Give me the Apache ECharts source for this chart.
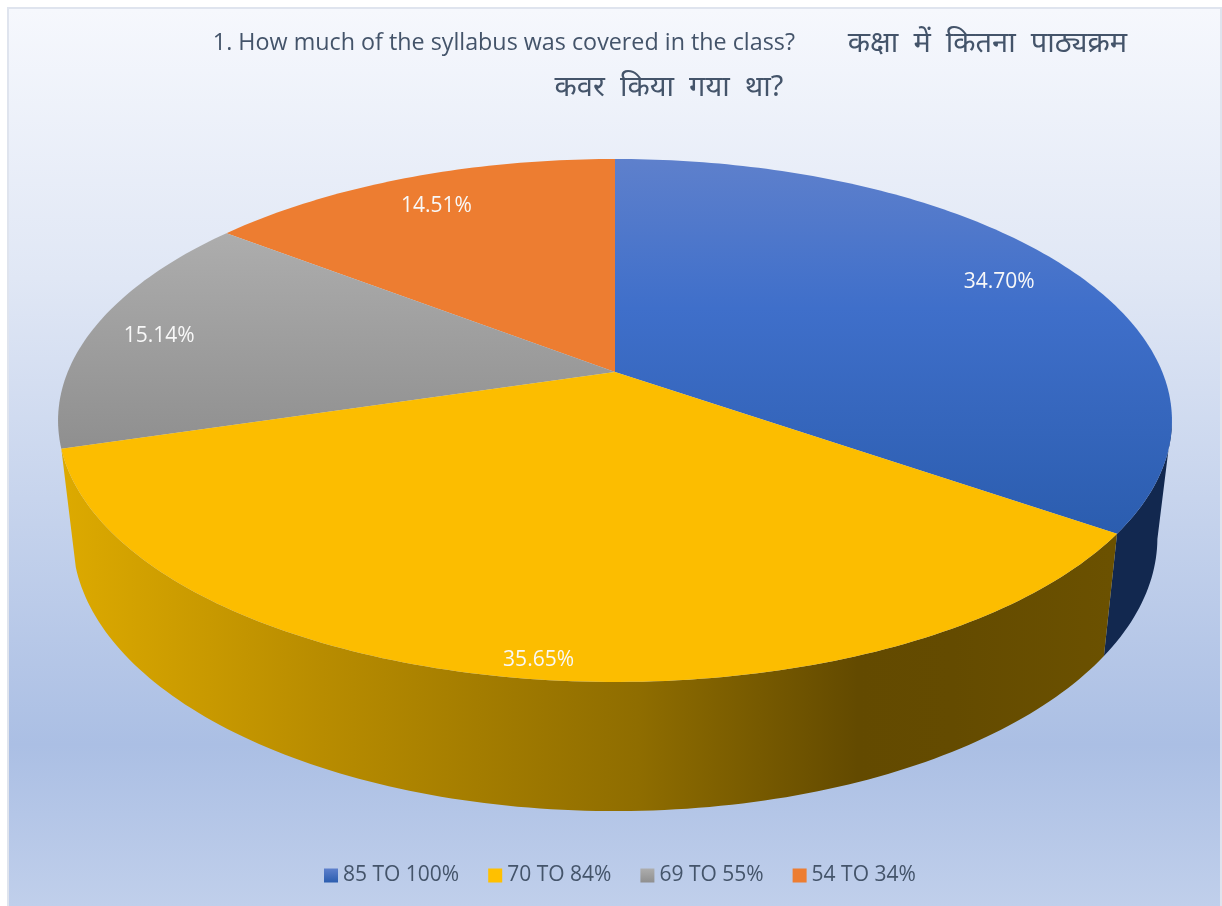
<!DOCTYPE html>
<html>
<head>
<meta charset="utf-8">
<title>Syllabus coverage</title>
<script src="https://cdn.jsdelivr.net/npm/echarts@6/dist/echarts.min.js"></script>
<style>
  html, body { margin: 0; padding: 0; background: #ffffff; }
  #main { width: 1222px; height: 906px; }
</style>
</head>
<body>
<div id="main"></div>
<script>
  // chart data
  var categories = ['85 TO 100%', '70 TO 84%', '69 TO 55%', '54 TO 34%'];
  var shares = [34.70, 35.65, 15.14, 14.51];
  var titleEn = '1. How much of the syllabus was covered in the class?';
  var titleHi1 = 'कक्षा  में  कितना  पाठ्यक्रम';
  var titleHi2 = 'कवर  किया  गया  था?';

  // look of the slices, same order as categories
  var LinearGradient = echarts.graphic.LinearGradient;
  var faceColors = [
    new LinearGradient(0, 159, 0, 533, [{offset: 0, color: '#5E80CC'}, {offset: 0.4, color: '#3F6FCA'}, {offset: 1, color: '#2B5DAF'}], true),
    '#FCBD00',
    new LinearGradient(0, 233, 0, 449, [{offset: 0, color: '#ADADAD'}, {offset: 1, color: '#8F8F8F'}], true),
    '#ED7D31'
  ];
  // grey and orange sit at the back, their walls never show
  var wallColors = [
    '#12284F',
    new LinearGradient(60, 0, 1110, 0, [
      {offset: 0, color: '#DDAA00'},
      {offset: 0.25, color: '#B88C00'},
      {offset: 0.55, color: '#8F6D00'},
      {offset: 0.76, color: '#634A00'},
      {offset: 0.85, color: '#644B00'},
      {offset: 1, color: '#6B5100'}
    ], true),
    null,
    null
  ];
  var legendColors = [
    new LinearGradient(0, 0, 0, 1, [{offset: 0, color: '#5E80CC'}, {offset: 1, color: '#2B5DAF'}]),
    '#FFC000',
    new LinearGradient(0, 0, 0, 1, [{offset: 0, color: '#ADADAD'}, {offset: 1, color: '#8F8F8F'}]),
    '#ED7D31'
  ];
  var labelRadius = [0.84, 0.95, 0.87, 0.84];
  var labelShiftX = [4, 23, -1, -1];
  var labelShiftY = [1, 1, 3, 1];

  // perspective disc: top rim and bottom rim of the pie
  var topRim = {cx: 615, cy: 372, rx: 547.3, ry: 252.5};
  var lowRim = {cx: 615, cy: 487, rx: 533, ry: 264};
  var tilt = 0.1854;

  function project(rim, deg, t) {
    var a = deg * Math.PI / 180;
    var depth = -Math.cos(a) * t;
    var f = 1 / (1 - tilt * depth);
    return [rim.cx + rim.rx * Math.sin(a) * t * f, rim.cy + rim.ry * depth * f];
  }

  function angleSteps(from, to) {
    var list = [];
    var n = Math.ceil(to - from);
    for (var i = 0; i <= n; i++) {
      list.push(from + (to - from) * i / n);
    }
    return list;
  }

  var total = shares.reduce(function (a, b) { return a + b; }, 0);

  function startAngle(idx) {
    var sum = 0;
    for (var i = 0; i < idx; i++) sum += shares[i];
    return sum / total * 360;
  }

  function sliceRenderer(idx) {
    return function (params, api) {
      var from = startAngle(idx);
      var to = from + api.value(0) / total * 360;
      var steps = angleSteps(from, to);
      var children = [];

      // wall only from the rim's widest point on, so its outer edge is the tangent between rims
      if (wallColors[idx]) {
        var front = steps.filter(function (deg) {
          return -Math.cos(deg * Math.PI / 180) >= tilt;
        });
        var wall = front.map(function (deg) { return project(topRim, deg, 1); });
        front.slice().reverse().forEach(function (deg) { wall.push(project(lowRim, deg, 1)); });
        children.push({type: 'polygon', shape: {points: wall}, style: {fill: wallColors[idx]}});
      }

      var face = [[topRim.cx, topRim.cy]];
      steps.forEach(function (deg) { face.push(project(topRim, deg, 1)); });
      children.push({type: 'polygon', shape: {points: face}, style: {fill: faceColors[idx]}});

      var pos = project(topRim, (from + to) / 2, labelRadius[idx]);
      children.push({
        type: 'text',
        z2: 10,
        style: {
          x: pos[0] + labelShiftX[idx],
          y: pos[1] + labelShiftY[idx],
          text: api.value(0).toFixed(2) + '%',
          fill: '#F8F8F8',
          font: '21px "Open Sans"',
          align: 'center',
          verticalAlign: 'middle'
        }
      });

      return {type: 'group', children: children};
    };
  }

  // back slices first so the yellow wall ends up on top
  var drawOrder = [3, 2, 0, 1];

  var myChart = echarts.init(document.getElementById('main'));

  myChart.setOption({
    animation: false,
    graphic: [{
      type: 'rect',
      z: -10,
      silent: true,
      shape: {x: 8, y: 8, width: 1213, height: 910},
      style: {
        stroke: '#DFE4EE',
        lineWidth: 2,
        fill: new LinearGradient(0, 9, 0, 906, [
          {offset: 0, color: '#F6F8FD'},
          {offset: 0.3, color: '#E0E7F5'},
          {offset: 0.82, color: '#ABBFE4'},
          {offset: 1, color: '#C0CFEB'}
        ], true)
      }
    }],
    title: [
      {
        text: '{en|' + titleEn + '}{hi|       ' + titleHi1 + '}',
        left: 665,
        top: 24,
        textAlign: 'center',
        textStyle: {
          rich: {
            en: {fontFamily: '"Open Sans"', fontSize: 23.3, fontWeight: 'normal', color: '#44546A'},
            hi: {fontFamily: '"Noto Sans", "Open Sans"', fontSize: 29, fontWeight: 'normal', color: '#44546A'}
          }
        }
      },
      {
        text: titleHi2,
        left: 664,
        top: 68,
        textAlign: 'center',
        textStyle: {fontFamily: '"Noto Sans", "Open Sans"', fontSize: 29, fontWeight: 'normal', color: '#44546A'}
      }
    ],
    legend: {
      data: categories,
      left: 319,
      top: 860,
      icon: 'rect',
      itemWidth: 14,
      itemHeight: 14,
      itemGap: 29,
      textStyle: {fontFamily: '"Open Sans"', fontSize: 21, color: '#44546A'}
    },
    series: drawOrder.map(function (idx) {
      return {
        type: 'custom',
        name: categories[idx],
        coordinateSystem: 'none',
        silent: true,
        itemStyle: {color: legendColors[idx]},
        data: [[shares[idx]]],
        renderItem: sliceRenderer(idx)
      };
    })
  });
</script>
</body>
</html>
